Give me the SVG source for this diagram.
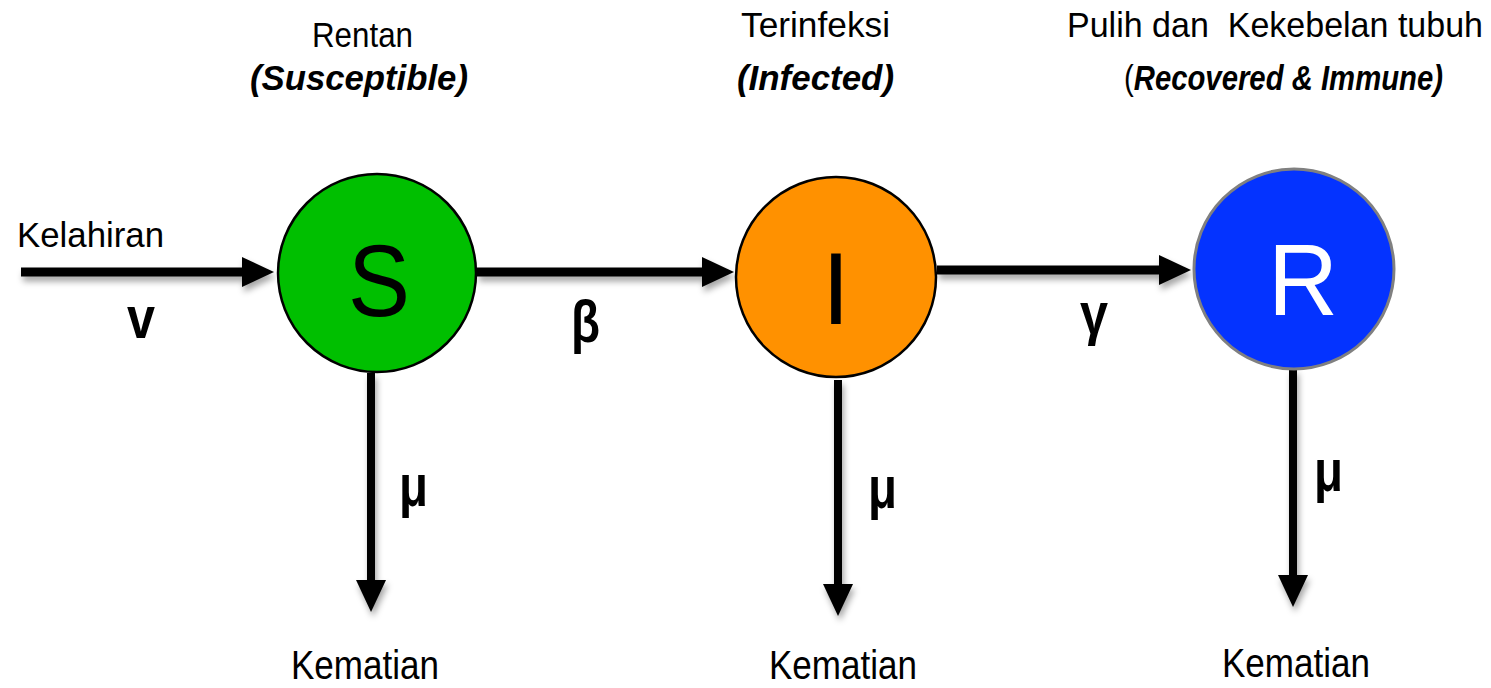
<svg xmlns="http://www.w3.org/2000/svg" width="1491" height="688" viewBox="0 0 1491 688">
<style>
.lbl{font-family:"Liberation Sans",Arial,sans-serif;font-size:35px;fill:#000}
.it{font-weight:bold;font-style:italic}
.gk{font-family:"Liberation Sans",Arial,sans-serif;font-size:60px;font-weight:bold;fill:#000}
.km{font-family:"Liberation Sans",Arial,sans-serif;font-size:41px;fill:#000}
.big{font-family:"Liberation Sans",Arial,sans-serif;font-size:102px;text-anchor:middle}
.edge{stroke:#000;stroke-width:9;fill:none;marker-end:url(#ah)}
.vedge{stroke:#000;stroke-width:8;fill:none;marker-end:url(#ah)}
</style>
<defs>
<marker id="ah" markerUnits="userSpaceOnUse" markerWidth="34" markerHeight="32" refX="1" refY="16" orient="auto">
<path d="M0,1 L32,16 L0,31 z" fill="#000"/>
</marker>
<filter id="sh" x="-10%" y="-50%" width="130%" height="200%">
<feDropShadow dx="2" dy="5" stdDeviation="3" flood-color="#000" flood-opacity="0.35"/>
</filter>
</defs>
<rect width="1491" height="688" fill="#fff"/>

<g id="connectors" filter="url(#sh)">
<path class="edge" d="M21,272 H243"/>
<path class="edge" d="M477,272 H703"/>
<path class="edge" d="M937,270 H1160"/>
<path class="vedge" d="M371,373 V581"/>
<path class="vedge" d="M838,380 V585"/>
<path class="vedge" d="M1293,369 V576"/>
</g>

<g id="labels">
<text class="lbl" x="312" y="47" textLength="101" lengthAdjust="spacingAndGlyphs">Rentan</text>
<text class="lbl it" x="250" y="90" textLength="218" lengthAdjust="spacingAndGlyphs">(Susceptible)</text>
<text class="lbl" x="741" y="37" textLength="149" lengthAdjust="spacingAndGlyphs">Terinfeksi</text>
<text class="lbl it" x="737" y="90" textLength="157" lengthAdjust="spacingAndGlyphs">(Infected)</text>
<text class="lbl" transform="translate(1483,37) scale(0.972,1)" x="0" y="0" text-anchor="end" xml:space="preserve">Pulih dan  Kekebelan tubuh</text>
<text class="lbl" transform="translate(1443,90) scale(0.837,1)" x="0" y="0" text-anchor="end">(<tspan class="it">Recovered &amp; Immune)</tspan></text>
<text class="lbl" x="17" y="247" textLength="147" lengthAdjust="spacingAndGlyphs">Kelahiran</text>
<text class="gk" x="127" y="338" textLength="28" lengthAdjust="spacingAndGlyphs">v</text>
<text class="gk" x="571" y="342" textLength="29" lengthAdjust="spacingAndGlyphs">β</text>
<text class="gk" x="1080" y="334" textLength="28" lengthAdjust="spacingAndGlyphs">γ</text>
<text class="gk" x="399" y="506" textLength="29" lengthAdjust="spacingAndGlyphs">μ</text>
<text class="gk" x="868" y="508" textLength="29" lengthAdjust="spacingAndGlyphs">μ</text>
<text class="gk" x="1314" y="491" textLength="29" lengthAdjust="spacingAndGlyphs">μ</text>
<text class="km" x="291" y="679" textLength="148" lengthAdjust="spacingAndGlyphs">Kematian</text>
<text class="km" x="769" y="679" textLength="148" lengthAdjust="spacingAndGlyphs">Kematian</text>
<text class="km" x="1222" y="677" textLength="148" lengthAdjust="spacingAndGlyphs">Kematian</text>
</g>

<g id="node-S">
<circle cx="377" cy="273" r="99" fill="#00BF00" stroke="#000" stroke-width="2.5"/>
<text class="big" x="379" y="316" fill="#000" textLength="62" lengthAdjust="spacingAndGlyphs">S</text>
</g>
<g id="node-I">
<circle cx="836" cy="277" r="100" fill="#FF9100" stroke="#000" stroke-width="2.5"/>
<text class="big" x="836" y="324" fill="#000">I</text>
</g>
<g id="node-R">
<circle cx="1294" cy="269" r="100" fill="#0433FF" stroke="#808080" stroke-width="3"/>
<text class="big" x="1303" y="315" fill="#fff" textLength="70" lengthAdjust="spacingAndGlyphs">R</text>
</g>
</svg>
